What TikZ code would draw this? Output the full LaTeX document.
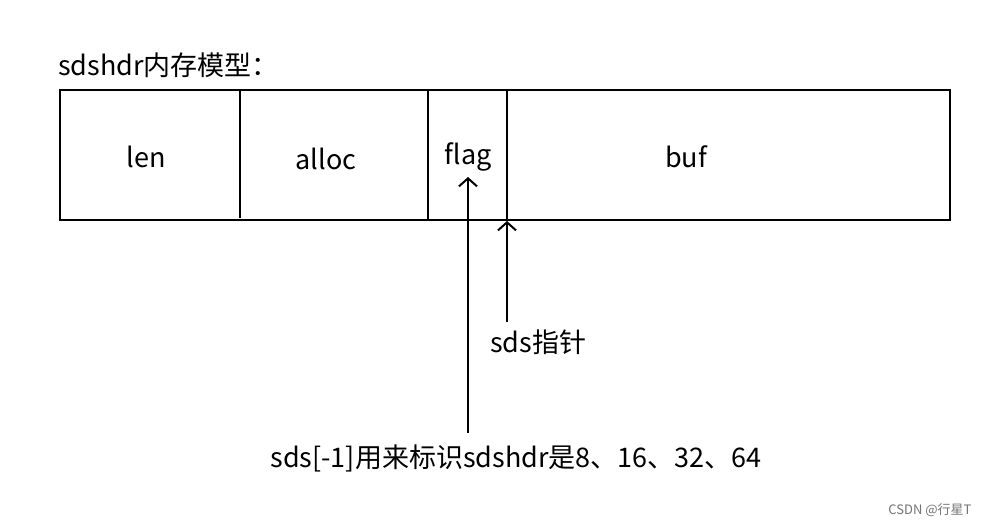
\documentclass[tikz,border=0pt]{standalone}
\usepackage{fontspec}
\setmainfont{Noto Sans CJK SC}
\usetikzlibrary{arrows.meta}
\begin{document}
\begin{tikzpicture}[x=1pt,y=-1pt,
  lbl/.style={font=\fontsize{27}{32}\selectfont, inner sep=0pt},
  box/.style={draw=black, line width=2pt},
  ptr/.style={draw=black, line width=2pt, -{Straight Barb[length=8pt,width=18pt,line width=2pt]}}]
\useasboundingbox[fill=white] (0,0) rectangle (982,527);
\node[lbl, anchor=west] (title) at (58,65) {sdshdr内存模型：};
\draw[box] (60,90) rectangle (950,220);
\draw[box] (240,90) -- (240,218);
\draw[box] (428,90) -- (428,220);
\draw[box] (507,90) -- (507,220);
\node[lbl] (len) at (146,157) {len};
\node[lbl] (alloc) at (326,159) {alloc};
\node[lbl] (flag) at (468,157) {flag};
\node[lbl] (buf) at (686,157) {buf};
\node[lbl] (sds) at (538,342) {sds指针};
\node[lbl] (note) at (516,458) {sds[-1]用来标识sdshdr是8、16、32、64};
\coordinate (flagtip) at (468,177);
\coordinate (sdstip) at (507,221);
\draw[ptr] (468,433) -- (flagtip);
\draw[ptr] (507,322) -- (sdstip);
\node[font=\fontsize{13}{15}\selectfont, text=black!55, inner sep=0pt] (wm) at (930,510) {CSDN @行星T};
\end{tikzpicture}
\end{document}
